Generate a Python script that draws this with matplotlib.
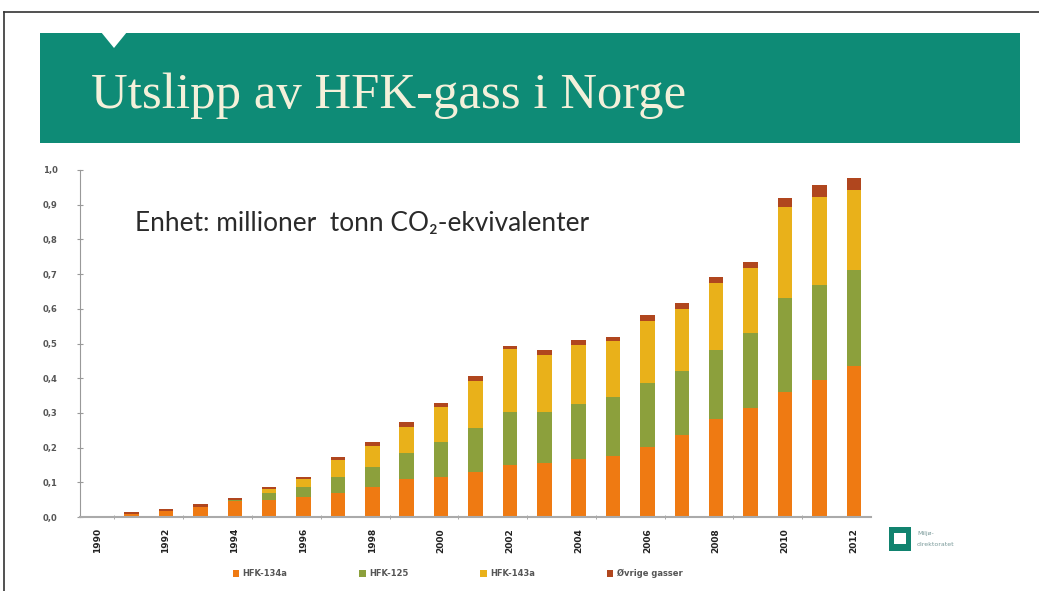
import matplotlib
matplotlib.use("Agg")
import matplotlib.pyplot as plt
from matplotlib.patches import Rectangle, Polygon
import numpy as np

years = list(range(1990, 2013))
hfk134a = [0.000, 0.010, 0.017, 0.030, 0.047, 0.049, 0.058, 0.068, 0.086, 0.109, 0.115, 0.130,
           0.150, 0.155, 0.167, 0.176, 0.202, 0.236, 0.282, 0.314, 0.360, 0.395, 0.435]
hfk125 = [0.000, 0.000, 0.000, 0.000, 0.001, 0.021, 0.029, 0.046, 0.058, 0.075, 0.102, 0.126,
          0.153, 0.148, 0.159, 0.170, 0.184, 0.185, 0.199, 0.216, 0.271, 0.274, 0.277]
hfk143a = [0.000, 0.000, 0.000, 0.000, 0.000, 0.010, 0.022, 0.050, 0.061, 0.076, 0.100, 0.136,
           0.181, 0.164, 0.170, 0.161, 0.179, 0.178, 0.193, 0.188, 0.263, 0.253, 0.230]
other = [0.000, 0.004, 0.006, 0.007, 0.007, 0.006, 0.007, 0.009, 0.011, 0.014, 0.012, 0.014,
         0.009, 0.014, 0.014, 0.013, 0.017, 0.018, 0.018, 0.017, 0.025, 0.035, 0.035]
series_names = ["HFK-134a", "HFK-125", "HFK-143a", "Øvrige gasser"]
series_colors = ["#EF7A12", "#8CA03C", "#E9B11A", "#B0461E"]
y_ticks = [0.0, 0.1, 0.2, 0.3, 0.4, 0.5, 0.6, 0.7, 0.8, 0.9, 1.0]
y_tick_labels = ["0,0", "0,1", "0,2", "0,3", "0,4", "0,5", "0,6", "0,7", "0,8", "0,9", "1,0"]
title = "Utslipp av HFK-gass i Norge"
subtitle = "Enhet: millioner  tonn CO\u2082-ekvivalenter"

W, H = 1039, 591
fig = plt.figure(figsize=(W / 100, H / 100), dpi=100)
fig.patch.set_facecolor("white")

def fx(px):
    return px / W

def fy(py):
    return 1 - py / H

# outer frame
fig.add_artist(plt.Line2D([fx(4), 1.0], [fy(12), fy(12)], color="#333333", lw=1.2))
fig.add_artist(plt.Line2D([fx(4), fx(4)], [fy(12), 0.0], color="#333333", lw=1.2))

# banner
fig.add_artist(Rectangle((fx(40), fy(143)), fx(1020) - fx(40), fy(33) - fy(143),
                         facecolor="#0E8B76", edgecolor="none", transform=fig.transFigure))
fig.add_artist(Polygon([(fx(101), fy(32)), (fx(127), fy(32)), (fx(114), fy(48))],
                       closed=True, facecolor="white", edgecolor="none", transform=fig.transFigure))
fig.text(fx(91), fy(96), title, family=["Liberation Serif", "DejaVu Serif"], fontsize=36.5,
         color="#F4F0DA", va="center", ha="left")

# chart axes
ax = fig.add_axes([fx(80), fy(517), fx(871) - fx(80), fy(170) - fy(517)])
x = np.arange(len(years))
bottom = np.zeros(len(years))
for vals, name, col in zip([hfk134a, hfk125, hfk143a, other], series_names, series_colors):
    ax.bar(x, vals, width=0.42, bottom=bottom, color=col, label=name, edgecolor="none")
    bottom = bottom + np.array(vals)

ax.set_xlim(-0.5, len(years) - 0.5)
ax.set_ylim(0, 1.0)
ax.set_yticks(y_ticks)
ax.set_yticklabels(y_tick_labels, fontsize=6, color="#555555", fontweight="bold")
ax.set_xticks(x[::2])
ax.set_xticklabels([str(y) for y in years[::2]], rotation=90, fontsize=6.5,
                   fontweight="bold", color="#222222")
ax.tick_params(axis="x", length=0, pad=8)
ax.tick_params(axis="y", length=4, direction="inout", color="#999999", pad=14)
ax.set_xticks(np.arange(0.5, len(years) - 0.5, 2), minor=True)
ax.tick_params(axis="x", which="minor", length=3, color="#999999", direction="inout")
for s in ["top", "right"]:
    ax.spines[s].set_visible(False)
ax.spines["left"].set_color("#999999")
ax.spines["bottom"].set_color("#AAAAAA")
ax.spines["bottom"].set_linewidth(1.5)

ax.text(fx(135), fy(224), subtitle, transform=fig.transFigure, family=["Lato", "DejaVu Sans"],
        fontsize=18.9, color="#2A2A2A", va="center", ha="left")

leg = ax.legend(loc="lower left", bbox_to_anchor=(fx(225), fy(586)), bbox_transform=fig.transFigure,
                ncol=4, frameon=False, fontsize=6, handlelength=0.8, handleheight=0.8,
                columnspacing=8.6, handletextpad=0.4)
for t in leg.get_texts():
    t.set_color("#555555")
    t.set_fontweight("bold")

# logo
fig.add_artist(Rectangle((fx(889), fy(551)), fx(22), fy(527) - fy(551), facecolor="#11836F",
                         edgecolor="none", transform=fig.transFigure))
fig.add_artist(Rectangle((fx(894), fy(544)), fx(12), fy(533) - fy(544), facecolor="white",
                         edgecolor="none", transform=fig.transFigure))
fig.text(fx(917), fy(533), "Miljø-", fontsize=4.5, color="#7A9A9A", va="center", ha="left")
fig.text(fx(917), fy(544), "direktoratet", fontsize=4.5, color="#7A9A9A", va="center", ha="left")

fig.savefig("out.png", dpi=100, facecolor="white")
